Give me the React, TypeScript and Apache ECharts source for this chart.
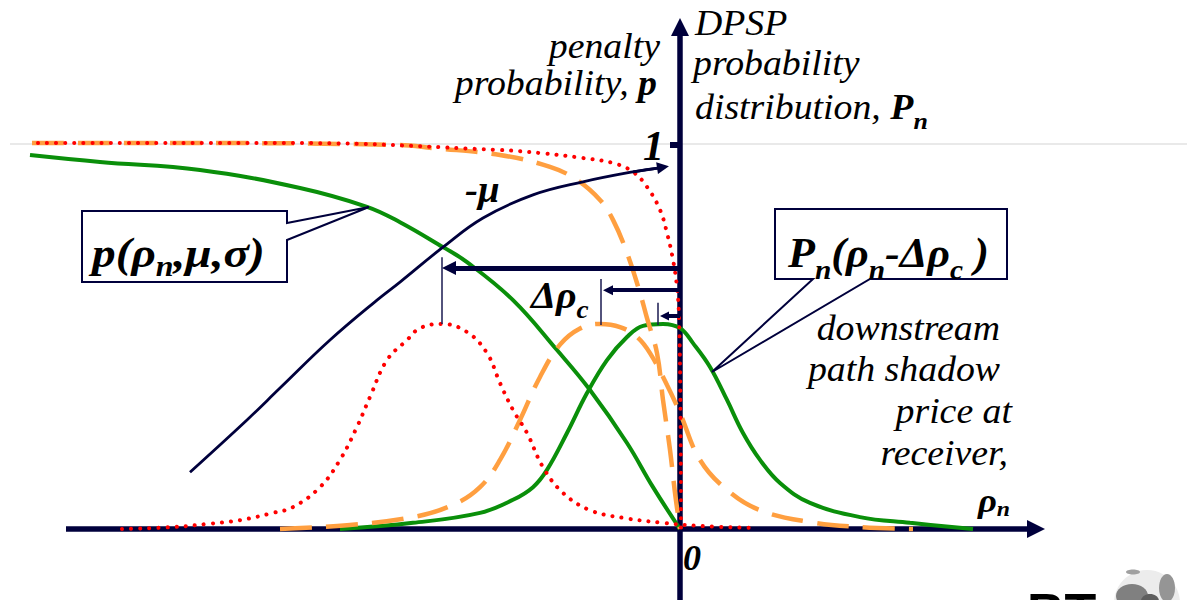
import React, { useEffect, useRef } from "react";
import * as echarts from "echarts";

// ---------- colours & fonts ----------
const NAVY = "#00003c";
const GREEN = "#0a8f0a";
const ORANGE = "#ff9f40";
const RED = "#ff0000";
const SERIF = "Liberation Serif, DejaVu Serif, Times New Roman, serif";
const SANS = "Liberation Sans, Arial, sans-serif";

// ---------- axis window (x = rho_n offset, y = probability) ----------
const X_MIN = -6.8;
const X_MAX = 5.07;
const Y_MIN = -0.1849;
const Y_MAX = 1.3776;

// ---------- penalty probability curves p(rho_n, mu, sigma) ----------
const penaltyGreen: [number, number][] = [
  [-6.5, 0.974], [-5.8, 0.956], [-4.8, 0.935], [-3.8, 0.888], [-3.13, 0.839],
  [-2.8, 0.799], [-2.37, 0.734], [-2.13, 0.695], [-1.67, 0.596], [-1.23, 0.466],
  [-0.9, 0.362], [-0.53, 0.224], [-0.27, 0.109], [0, 0],
];
const penaltyOrange: [number, number][] = [
  [-6.48, 1.005], [-4.8, 1.005], [-2.8, 1.0], [-2.47, 0.992], [-1.8, 0.974],
  [-1.3, 0.943], [-1.03, 0.909], [-0.8, 0.857], [-0.67, 0.805], [-0.53, 0.719],
  [-0.4, 0.615], [-0.33, 0.549], [-0.23, 0.458], [-0.17, 0.336], [-0.1, 0.206],
  [-0.05, 0.094], [0, 0],
];
const penaltyRed: [number, number][] = [
  [-6.42, 1.005], [-3.8, 1.005], [-1.8, 0.987], [-1.4, 0.979], [-0.97, 0.966],
  [-0.67, 0.953], [-0.47, 0.93], [-0.33, 0.891], [-0.2, 0.831], [-0.13, 0.771],
  [-0.07, 0.701], [-0.03, 0.63], [-0.01, 0.552], [0.005, 0.3], [0.01, 0],
];

// ---------- DPSP probability distributions P_n ----------
const dpspRed: [number, number][] = [
  [-5.58, 0], [-5.07, 0.005], [-4.73, 0.013], [-4.4, 0.023], [-4.07, 0.042],
  [-3.87, 0.057], [-3.6, 0.109], [-3.4, 0.18], [-3.23, 0.266], [-3.1, 0.344],
  [-2.93, 0.44], [-2.73, 0.492], [-2.6, 0.523], [-2.38, 0.534], [-2.13, 0.513],
  [-1.93, 0.458], [-1.8, 0.38], [-1.67, 0.31], [-1.53, 0.25], [-1.37, 0.161],
  [-1.17, 0.094], [-0.9, 0.049], [-0.57, 0.029], [-0.17, 0.016], [0.2, 0.008],
  [0.72, 0.003],
];
const dpspOrange: [number, number][] = [
  [-4.0, 0], [-3.33, 0.01], [-2.67, 0.031], [-2.27, 0.063], [-2.0, 0.109],
  [-1.8, 0.18], [-1.6, 0.284], [-1.4, 0.396], [-1.2, 0.48], [-1.0, 0.522],
  [-0.8, 0.534], [-0.6, 0.526], [-0.43, 0.5], [-0.3, 0.458], [-0.13, 0.375],
  [0, 0.302], [0.2, 0.18], [0.47, 0.102], [0.8, 0.049], [1.3, 0.018],
  [1.8, 0.005], [2.33, 0],
];
const dpspGreen: [number, number][] = [
  [-3.4, 0], [-2.67, 0.016], [-2.0, 0.042], [-1.67, 0.076], [-1.47, 0.109],
  [-1.33, 0.154], [-1.13, 0.25], [-0.93, 0.354], [-0.73, 0.44], [-0.53, 0.5],
  [-0.37, 0.529], [-0.17, 0.534], [0, 0.523], [0.13, 0.484], [0.3, 0.422],
  [0.47, 0.336], [0.63, 0.25], [0.8, 0.18], [1.0, 0.12], [1.3, 0.068],
  [1.8, 0.031], [2.3, 0.016], [2.93, 0],
];

// ---------- -mu curve ----------
const muCurve: [number, number][] = [
  [-4.9, 0.148], [-4.33, 0.284], [-4.0, 0.367], [-3.5, 0.492], [-3.03, 0.596],
  [-2.8, 0.643], [-2.37, 0.734], [-1.97, 0.81], [-1.47, 0.87], [-0.97, 0.904],
  [-0.47, 0.93], [-0.17, 0.942],
];

// ---------- shift arrows (Δρc) and their marker ticks ----------
const shiftArrowY = [0.68, 0.622, 0.555];
const shiftArrowTipX = [-2.38, -0.77, -0.2];
const shiftMarkerX = [-2.38, -0.79, -0.22];
const shiftMarkerTop = [0.708, 0.651, 0.589];
const shiftMarkerBottom = [0.534, 0.531, 0.531];

// ---------- axes ----------
const xAxisLine: [number, number][] = [[-6.14, 0], [3.56, 0]];
const yAxisLine: [number, number][] = [[0, -0.19], [0, 1.307]];
const unitTick: [number, number][] = [[-0.1, 1.0], [0, 1.0]];
const unitGuide: [number, number][] = [[-6.7, 1.004], [5.07, 1.004]];

// ---------- texts ----------
const yTickLabels = ["1"];
const xTickLabels = ["0"];
const leftAxisTitle = ["penalty", "probability, ", "p"];
const rightAxisTitle = ["DPSP", "probability", "distribution, ", "P", "n"];
const xAxisTitle = ["downstream", "path shadow", "price at", "receiver,"];
const muLabel = "-μ";

function richFormula(M: number, S: number, D: number) {
  const P = D + 0.84 * (M - S);
  const H = Math.max(M, P + S);
  const base = { fontFamily: SERIF, fontStyle: "italic", fill: "#000", color: "#000" };
  return {
    H,
    rich: {
      m: { ...base, fontWeight: "bold", fontSize: M, lineHeight: M, verticalAlign: "top" },
      r: { ...base, fontWeight: "normal", fontSize: M, lineHeight: M, verticalAlign: "top" },
      s: { ...base, fontWeight: "bold", fontSize: S, lineHeight: S, verticalAlign: "top", padding: [P, 0, 0, 0] },
    },
  };
}

function richText(text: string, x: number, baseline: number, M: number, S: number, D: number, align: string, scaleX = 1.08) {
  const f = richFormula(M, S, D);
  const y = baseline + f.H / 2 - 0.84 * M;
  return {
    type: "text",
    x,
    y,
    scaleX,
    z: 100,
    style: {
      text,
      rich: f.rich,
      fontFamily: SERIF,
      fontStyle: "italic",
      fontWeight: "bold",
      fontSize: M,
      fill: "#000",
      align,
      verticalAlign: "middle",
      textAlign: align,
      textVerticalAlign: "middle",
    },
  };
}

function plainText(text: string, x: number, baseline: number, size: number, align: string, weight = "normal", scaleX = 1.08, family = SERIF, fstyle = "italic") {
  return {
    type: "text",
    x,
    y: baseline - 0.3375 * size,
    scaleX,
    z: 100,
    style: {
      text,
      fill: "#000",
      fontFamily: family,
      fontStyle: fstyle,
      fontWeight: weight,
      fontSize: size,
      align,
      verticalAlign: "middle",
      textAlign: align,
      textVerticalAlign: "middle",
    },
  };
}

function curve(data: [number, number][], color: string, width: number, type: any, cap: string) {
  return {
    type: "line",
    data,
    showSymbol: false,
    symbol: "none",
    smooth: 0.4,
    silent: true,
    z: 3,
    lineStyle: { color, width, type, cap },
  };
}

function segs(list: [number, number][][], color: string, width: number, symbol: any, symbolSize: any, z = 4) {
  return {
    type: "lines",
    coordinateSystem: "cartesian2d",
    data: list.map((c) => ({ coords: c })),
    symbol,
    symbolSize,
    silent: true,
    z,
    lineStyle: { color, width, opacity: 1, curveness: 0, type: "solid" },
  };
}

export default function App() {
  const ref = useRef<HTMLDivElement>(null);
  useEffect(() => {
    if (!ref.current) return;
    const chart = echarts.init(ref.current, undefined, { renderer: "svg" });

    const arrowHeads = [[14, 14], [10, 10], [9, 9]];
    const arrowWidths = [5, 4, 4];
    const arrowSeries = shiftArrowY.map((y, i) =>
      segs(
        [[[0, y], [shiftArrowTipX[i] + arrowHeads[i][1] / 200, y]]],
        NAVY,
        arrowWidths[i],
        ["none", "triangle"],
        arrowHeads[i],
        6
      )
    );
    const markerSeries = segs(
      shiftMarkerX.map((x, i) => [[x, shiftMarkerTop[i]], [x, shiftMarkerBottom[i]]] as [number, number][]),
      "#1a1a50",
      1.5,
      "none",
      0,
      6
    );

    const option: any = {
      animation: false,
      backgroundColor: "#ffffff",
      textStyle: { fontFamily: SERIF },
      grid: { left: 0, right: 0, top: 0, bottom: 0, containLabel: false },
      xAxis: { type: "value", min: X_MIN, max: X_MAX, show: false, splitLine: { show: false } },
      yAxis: { type: "value", min: Y_MIN, max: Y_MAX, show: false, splitLine: { show: false } },
      series: [
        segs([unitGuide], "#e2e2e2", 1.5, "none", 0, 1),
        segs([xAxisLine, yAxisLine], NAVY, 5.5, ["none", "triangle"], [17, 18], 2),
        segs([unitTick], NAVY, 6, "none", 0, 2),
        curve(penaltyGreen, GREEN, 4, "solid", "butt"),
        curve(dpspGreen, GREEN, 4, "solid", "butt"),
        curve(penaltyOrange, ORANGE, 4.5, [32, 14], "butt"),
        curve(dpspOrange, ORANGE, 4.5, [32, 14], "butt"),
        curve(penaltyRed, RED, 4, [0.1, 9], "round"),
        curve(dpspRed, RED, 4, [0.1, 9], "round"),
        { ...curve(muCurve, NAVY, 2.8, "solid", "butt"), z: 5 },
        segs([[muCurve[muCurve.length - 2], muCurve[muCurve.length - 1]]], NAVY, 2.8, ["none", "triangle"], [11, 12], 5),
        ...arrowSeries,
        markerSeries,
      ],
      graphic: {
        elements: [
          // callout boxes
          {
            type: "polygon",
            z: 50,
            shape: { points: [[82, 211], [287, 211], [287, 223], [369, 207], [287, 240], [287, 282], [82, 282]] },
            style: { fill: "#ffffff", stroke: NAVY, lineWidth: 2 },
          },
          {
            type: "polygon",
            z: 50,
            shape: { points: [[775, 209], [1007, 209], [1007, 279], [870, 279], [712, 372], [813, 279], [775, 279]] },
            style: { fill: "#ffffff", stroke: NAVY, lineWidth: 2 },
          },
          richText("{m|p(ρ}{s|n}{m|,μ,σ)}", 92, 264, 43, 29, 9, "left", 1.1),
          richText("{m|P}{s|n}{m|(ρ}{s|n}{m|-Δρ}{s|c}{m| )}", 788, 262, 42, 28, 12, "left", 1.05),
          richText("{m|Δρ}{s|c}", 531, 304, 38, 26, 10, "left", 1.05),
          // axis titles
          plainText(leftAxisTitle[0], 660, 58, 35, "right"),
          richText(`{r|${leftAxisTitle[1]}}{m|${leftAxisTitle[2]}}`, 657, 95, 35, 35, 0, "right"),
          plainText(rightAxisTitle[0], 695, 35, 35, "left"),
          plainText(rightAxisTitle[1], 693, 75, 35, "left"),
          richText(`{r|${rightAxisTitle[2]}}{m|${rightAxisTitle[3]}}{s|${rightAxisTitle[4]}}`, 695, 115, 35, 24, 10, "left"),
          plainText(xAxisTitle[0], 1000, 340, 35, "right"),
          plainText(xAxisTitle[1], 1000, 381, 35, "right"),
          plainText(xAxisTitle[2], 1012, 423, 35, "right"),
          plainText(xAxisTitle[3], 1008, 465, 35, "right"),
          richText("{m|ρ}{s|n}", 1010, 511, 34, 22, 4, "right"),
          // tick labels
          plainText(yTickLabels[0], 664, 160, 42, "right", "bold", 1.0),
          plainText(xTickLabels[0], 683, 570, 36, "left", "bold", 1.0),
          plainText(muLabel, 465, 202, 37, "left", "bold", 1.05),
          // BT logo (partially visible, as in the reference)
          plainText("BT", 1027, 630, 52, "left", "bold", 1.0, SANS, "normal"),
          { type: "circle", z: 100, shape: { cx: 1147, cy: 603, r: 33 }, style: { fill: "#ececec" } },
          { type: "ellipse", z: 101, shape: { cx: 1132, cy: 596, rx: 16, ry: 12 }, style: { fill: "#808080" } },
          { type: "ellipse", z: 101, shape: { cx: 1167, cy: 588, rx: 8, ry: 14 }, style: { fill: "#959595" } },
          { type: "ellipse", z: 101, shape: { cx: 1133, cy: 572, rx: 7, ry: 2.5 }, style: { fill: "#a0a0a0" } },
          { type: "ellipse", z: 101, shape: { cx: 1150, cy: 601, rx: 9, ry: 7 }, style: { fill: "#5e5e5e" } },
        ],
      },
    };
    chart.setOption(option);
    return () => chart.dispose();
  }, []);

  return (
    <div
      ref={ref}
      style={{ position: "absolute", left: 0, top: 0, width: 1187, height: 600, background: "#ffffff" }}
    />
  );
}
